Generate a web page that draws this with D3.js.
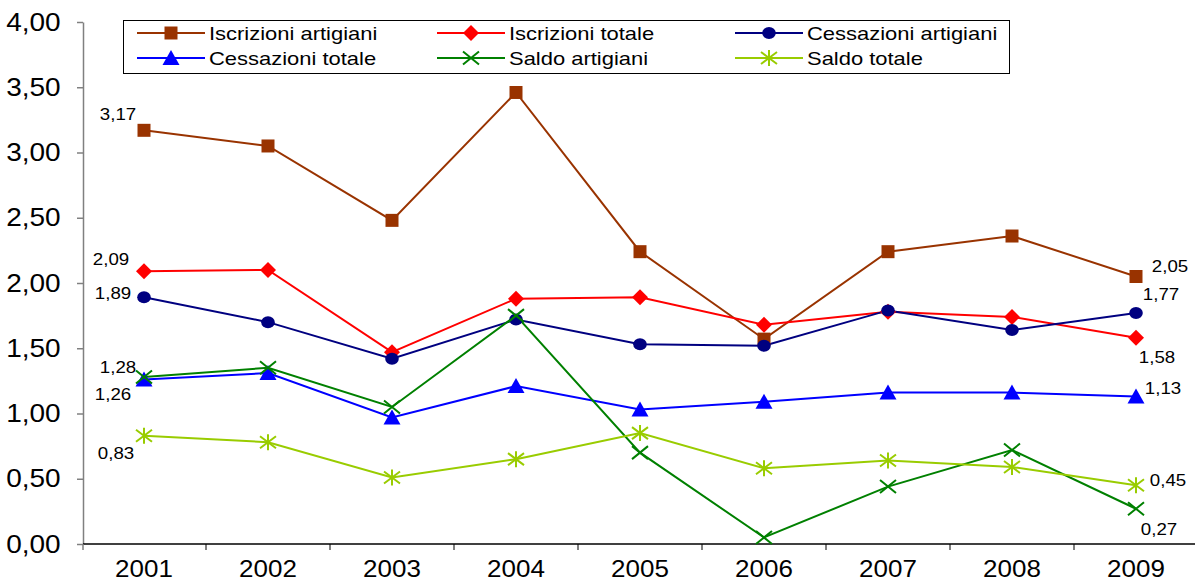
<!DOCTYPE html>
<html>
<head>
<meta charset="utf-8">
<script src="https://cdn.jsdelivr.net/npm/d3@7"></script>
<style>
  body { margin: 0; background: #fff; }
  svg { display: block; font-family: "Liberation Sans", Arial, sans-serif; }
</style>
</head>
<body>
<div id="chart"></div>
<script>
// data
const years = ["2001", "2002", "2003", "2004", "2005", "2006", "2007", "2008", "2009"];
const iscrizioniArtigiani = [3.17, 3.05, 2.48, 3.46, 2.24, 1.57, 2.24, 2.36, 2.05];
const iscrizioniTotale = [2.09, 2.10, 1.47, 1.88, 1.89, 1.68, 1.78, 1.74, 1.58];
const cessazioniArtigiani = [1.89, 1.70, 1.42, 1.72, 1.53, 1.52, 1.79, 1.64, 1.77];
const cessazioniTotale = [1.26, 1.31, 0.97, 1.21, 1.03, 1.09, 1.16, 1.16, 1.13];
const saldoArtigiani = [1.28, 1.35, 1.05, 1.75, 0.70, 0.05, 0.44, 0.72, 0.27];
const saldoTotale = [0.83, 0.78, 0.51, 0.65, 0.85, 0.58, 0.64, 0.59, 0.45];
const seriesNames = ["Iscrizioni artigiani", "Iscrizioni totale", "Cessazioni artigiani",
                     "Cessazioni totale", "Saldo artigiani", "Saldo totale"];
const yTicks = [0, 0.5, 1, 1.5, 2, 2.5, 3, 3.5, 4];

///////////////////////////// options /////////////////////////////
const width = 1195, height = 584;
const colors = ["#993300", "#ff0000", "#000080", "#0000ff", "#008000", "#99cc00"];
const markers = ["square", "diamond", "circle", "triangle", "cross", "star"];
// legend slots [x of line start, y]
const legendSlots = [[137, 33], [437, 33], [735, 33], [137, 58], [437, 58], [735, 58]];
// data label offsets from the first / last point [dx, dy]
const firstLabelOff = [[-26, -10], [-33, -6], [-31, 2], [-31, 20], [-26, -4], [-28, 23]];
const lastLabelOff = [[34, -4], [21, 25], [25, -13], [27, -3], [23, 26], [32, 1]];

const comma = v => d3.format(".2f")(v).replace(".", ",");

const series = [iscrizioniArtigiani, iscrizioniTotale, cessazioniArtigiani,
                cessazioniTotale, saldoArtigiani, saldoTotale]
  .map((vals, i) => ({
    name: seriesNames[i], color: colors[i], marker: markers[i],
    values: vals.map((v, j) => ({ year: years[j], v: v }))
  }));

// Scale
const x = d3.scaleBand().domain(years).range([82, 1198]).padding(0);
const y = d3.scaleLinear().domain([0, 4]).range([544, 22]);
const cx = d => x(d) + x.bandwidth() / 2;

const svg = d3.select("#chart").append("svg")
  .attr("width", width).attr("height", height);

// y axis
const yAxis = svg.append("g")
  .attr("transform", "translate(83,0)")
  .call(d3.axisLeft(y).tickValues(yTicks).tickFormat(comma).tickSize(6).tickPadding(14).tickSizeOuter(0));
yAxis.select(".domain").attr("stroke", "#808080").attr("stroke-width", 1.5);
yAxis.selectAll(".tick line").attr("stroke", "#808080").attr("stroke-width", 1.5);
yAxis.selectAll(".tick text")
  .attr("font-size", 25).attr("fill", "#000")
  .attr("font-family", "'Liberation Sans', Arial, sans-serif")
  .attr("transform", "scale(1.12,1)");

// x axis
const xAxis = svg.append("g")
  .attr("transform", "translate(0,544)")
  .call(d3.axisBottom(x).tickSize(0).tickPadding(17).tickSizeOuter(0));
xAxis.select(".domain").attr("stroke", "#000").attr("stroke-width", 1.5)
  .attr("d", "M83,0H1200");
xAxis.selectAll(".tick text")
  .attr("font-size", 23).attr("fill", "#000")
  .attr("font-family", "'Liberation Sans', Arial, sans-serif")
  .attr("transform", "scale(1.13,1)");
xAxis.selectAll(".sep")
  .data(years.slice(1)).enter()
  .append("line").attr("class", "sep")
  .attr("x1", d => x(d)).attr("x2", d => x(d))
  .attr("y1", 0).attr("y2", 6)
  .attr("stroke", "#000").attr("stroke-width", 1);
// y axis continues a bit under the x axis
svg.append("line").attr("x1", 83).attr("x2", 83).attr("y1", y(0)).attr("y2", y(0) + 6)
  .attr("stroke", "#808080").attr("stroke-width", 1.5);

// marker shapes
function markerPath(type) {
  switch (type) {
    case "square": return "M-6.5,-6.5H6.5V6.5H-6.5Z";
    case "diamond": return "M0,-8L8,0L0,8L-8,0Z";
    case "triangle": return "M0,-8L8.5,7H-8.5Z";
    case "cross": return "M-8,-6.5L8,6.5M-8,6.5L8,-6.5";
    case "star": return "M-8,-6L8,6M-8,6L8,-6M0,-8V8";
  }
  return null;
}
function drawMarker(g, type, color) {
  if (type === "circle") {
    g.append("ellipse").attr("rx", 6.8).attr("ry", 6).attr("fill", color);
  } else if (type === "cross" || type === "star") {
    g.append("path").attr("d", markerPath(type)).attr("fill", "none")
      .attr("stroke", color).attr("stroke-width", 2);
  } else {
    g.append("path").attr("d", markerPath(type)).attr("fill", color);
  }
}

const line = d3.line().x(d => cx(d.year)).y(d => y(d.v));

// Add lines
const lines = svg.append("g").attr("class", "lines");
lines.selectAll(".line")
  .data(series).enter()
  .append("path")
  .attr("class", "line")
  .attr("d", d => line(d.values))
  .attr("fill", "none")
  .attr("stroke", d => d.color)
  .attr("stroke-width", 2);

// Add markers
series.forEach(function(s) {
  lines.append("g").selectAll("g")
    .data(s.values).enter()
    .append("g")
    .attr("transform", d => `translate(${cx(d.year)},${y(d.v)})`)
    .each(function() { drawMarker(d3.select(this), s.marker, s.color); });
});

// data labels on first and last points
const labels = svg.append("g")
  .attr("font-size", 17).attr("fill", "#000").attr("text-anchor", "middle");
series.forEach(function(s, i) {
  const first = s.values[0], last = s.values[s.values.length - 1];
  [[first, firstLabelOff[i]], [last, lastLabelOff[i]]].forEach(function(p) {
    const px = cx(p[0].year) + p[1][0], py = y(p[0].v) + p[1][1];
    labels.append("text")
      .attr("transform", `translate(${px},${py}) scale(1.1,1)`)
      .text(comma(p[0].v));
  });
});

// legend
const legend = svg.append("g");
legend.append("rect")
  .attr("x", 123.5).attr("y", 20.5).attr("width", 886).attr("height", 53)
  .attr("fill", "#fff").attr("stroke", "#000").attr("stroke-width", 1);
series.forEach(function(s, i) {
  const lx = legendSlots[i][0], ly = legendSlots[i][1];
  const g = legend.append("g").attr("transform", `translate(${lx},${ly})`);
  g.append("line").attr("x1", 0).attr("x2", 68).attr("y1", 0).attr("y2", 0)
    .attr("stroke", s.color).attr("stroke-width", 2);
  drawMarker(g.append("g").attr("transform", "translate(34,0)"), s.marker, s.color);
  g.append("text")
    .attr("transform", "translate(72,6.5) scale(1.22,1)")
    .attr("font-size", 18).attr("fill", "#000")
    .text(s.name);
});
</script>
</body>
</html>
